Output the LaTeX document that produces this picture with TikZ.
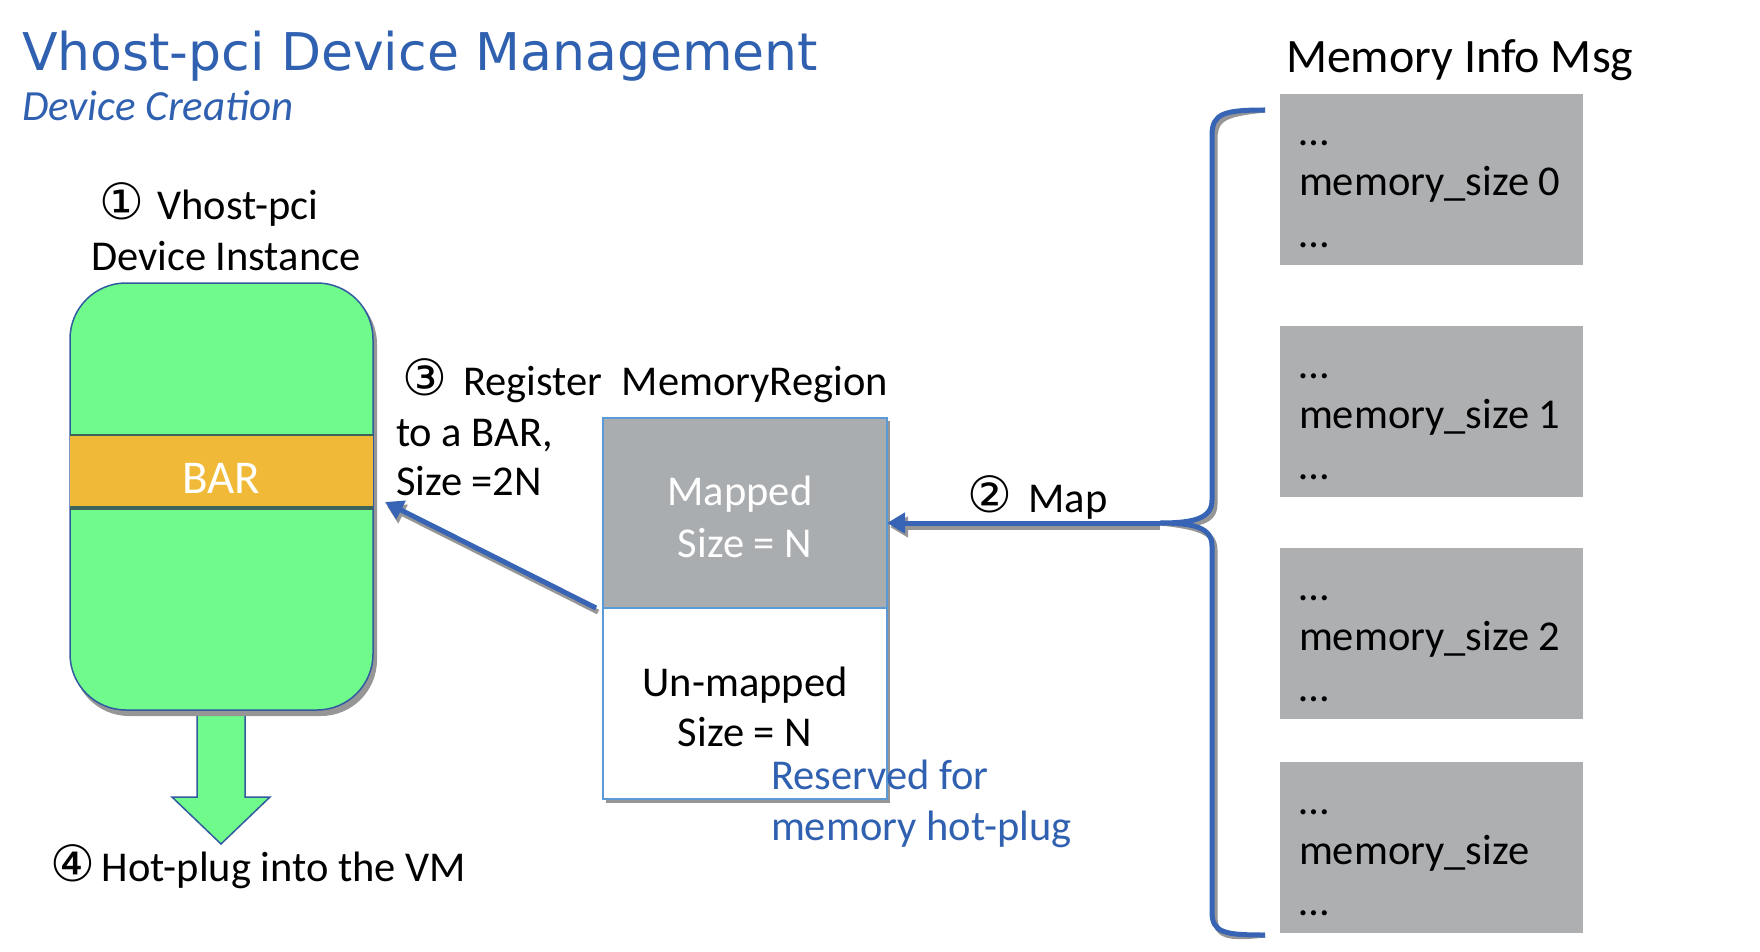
\documentclass[tikz,border=0pt]{standalone}
\usepackage{fontspec}
\setmainfont{Carlito}
\newfontfamily\titlefont{DejaVu Sans}
\newfontfamily\circfont{DejaVu Sans}
\usetikzlibrary{arrows.meta}
\definecolor{titleblue}{RGB}{48,96,176}
\definecolor{devgreen}{RGB}{112,250,140}
\definecolor{devline}{RGB}{50,90,160}
\definecolor{barorange}{RGB}{240,186,56}
\definecolor{barline}{RGB}{60,100,90}
\definecolor{mrgray}{RGB}{170,173,176}
\definecolor{mrline}{RGB}{90,155,215}
\definecolor{msggray}{RGB}{174,175,177}
\definecolor{arrowblue}{RGB}{55,100,180}
\definecolor{shadowgray}{RGB}{150,150,150}
\newcommand{\stepno}[1]{{\circfont\fontsize{50}{50}\selectfont #1}}

\begin{document}
\begin{tikzpicture}[x=1pt,y=-1pt,
  every node/.style={inner sep=0pt,outer sep=0pt},
  txt/.style={anchor=base west,font=\fontsize{42.5}{50}\selectfont},
  bluearrow/.style={draw=arrowblue,line width=5pt,-{Triangle[length=18pt,width=20pt]}},
  shadowarrow/.style={draw=shadowgray,line width=5pt,-{Triangle[length=18pt,width=20pt]}},
  msgbox/.style={fill=msggray,minimum width=303pt,minimum height=171pt,anchor=north west}]
\useasboundingbox (0,0) rectangle (1760,952);

% title
\node[anchor=base west,text=titleblue,font=\titlefont\fontsize{52}{60}\selectfont] (title) at (22,71) {Vhost-pci Device Management};
\node[anchor=base west,text=titleblue,font=\itshape\fontsize{43}{50}\selectfont] (subtitle) at (22,121) {Device Creation};

% device instance
\node[txt] (step1) at (99,219) {\stepno{①}\hspace{4pt} Vhost-pci};
\node[txt] (step1b) at (91,270) {Device Instance};
\draw[devline,fill=devgreen,line width=1.5pt] (197,705) -- (197,797) -- (172,797) -- (221,844) -- (270,797) -- (245,797) -- (245,705);
\fill[shadowgray,rounded corners=56pt] (73,288) rectangle (377,716);
\node[draw=devline,fill=devgreen,line width=1.5pt,rounded corners=56pt,minimum width=303pt,minimum height=427pt] (dev) at (221.5,496.5) {};
\node[fill=barorange,minimum width=303pt,minimum height=73pt] (bar) at (221.5,471.5) {};
\node[anchor=base,text=white,font=\fontsize{47}{50}\selectfont] (bartext) at (221.5,493) {BAR};
\draw[barline,line width=1.5pt] (bar.north west) -- (bar.north east);
\draw[barline,line width=3.5pt] (bar.south west) -- (bar.south east);
\node[txt] (step4) at (50,881) {\stepno{④}\,Hot-plug into the VM};

% memory region
\fill[shadowgray] (606,421) rectangle (890,803);
\node[draw=mrline,fill=mrgray,line width=1.5pt,minimum width=284pt,minimum height=190pt] (mapped) at (745,513) {};
\node[draw=mrline,fill=white,line width=1.5pt,minimum width=284pt,minimum height=191pt] (unmapped) at (745,703.5) {};
\node[anchor=base,text=white,font=\fontsize{42.5}{50}\selectfont] (mtext1) at (740,505) {Mapped};
\node[anchor=base,text=white,font=\fontsize{42.5}{50}\selectfont] (mtext2) at (745,557) {Size = N};
\node[anchor=base,font=\fontsize{42.5}{50}\selectfont] (utext1) at (745,696) {Un-mapped};
\node[anchor=base,font=\fontsize{42.5}{50}\selectfont] (utext2) at (745,746) {Size = N};
\node[txt,text=titleblue] (resv1) at (771,789) {Reserved for};
\node[txt,text=titleblue] (resv2) at (771,840) {memory hot-plug};

\node[txt] (step3) at (402,395) {\stepno{③}\hspace{7pt} Register\ \ MemoryRegion};
\node[txt] (step3b) at (396,446) {to a BAR,};
\node[txt] (step3c) at (396,495) {Size =2N};

% register arrow
\draw[shadowarrow] ([xshift=-5pt,yshift=-4pt]mapped.south west) -- ([xshift=14pt,yshift=2pt]bar.south east);
\draw[bluearrow] ([xshift=-7pt]mapped.south west) -- ([xshift=12pt,yshift=6pt]bar.south east);

% memory info msg
\node[txt,font=\fontsize{48}{50}\selectfont] (msgtitle) at (1286,73) {Memory Info Msg};
\foreach \i/\y/\lab in {0/94/memory\_size 0,1/326/memory\_size 1,2/548/memory\_size 2,3/762/memory\_size}
{
\node[msgbox] (msg\i) at (1280,\y) {};
\node[txt] at (1299,\y+52) {…};
\node[txt] at (1299,\y+102) {\lab};
\node[txt] at (1299,\y+153) {…};
}

% brace and map arrow
\coordinate (tip) at (1160,523);
\coordinate (btop) at (1265,110);
\coordinate (bbot) at (1265,935);
\draw[shadowgray,line width=5pt,shift={(3,4)}] (btop) .. controls (1225,110) and (1212,113) .. (1212,135) -- (1212,500) .. controls (1212,518) and (1195,523) .. (tip) .. controls (1195,523) and (1212,528) .. (1212,546) -- (1212,912) .. controls (1212,933) and (1225,935) .. (bbot);
\draw[arrowblue,line width=5pt] (btop) .. controls (1225,110) and (1212,113) .. (1212,135) -- (1212,500) .. controls (1212,518) and (1195,523) .. (tip) .. controls (1195,523) and (1212,528) .. (1212,546) -- (1212,912) .. controls (1212,933) and (1225,935) .. (bbot);
\draw[shadowarrow] ([yshift=-4pt]tip) -- ([xshift=3pt,yshift=-4pt]mapped.east |- tip);
\draw[bluearrow] (tip) -- (mapped.east |- tip);
\node[txt] (step2) at (967,512) {\stepno{②}\hspace{7pt} Map};
\end{tikzpicture}
\end{document}
